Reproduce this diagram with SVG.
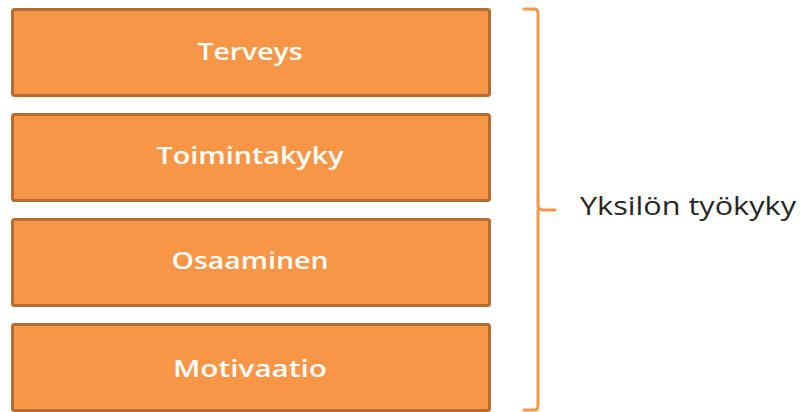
<svg xmlns="http://www.w3.org/2000/svg" width="800" height="412" viewBox="0 0 800 412">
<style>
.box{fill:#f79646;stroke:#b66d31;stroke-width:3}
.lbl{font-family:"Open Sans","Liberation Sans",sans-serif;font-size:24px;font-weight:600;fill:#ffffff;text-anchor:middle}
.side{font-family:"Open Sans","Liberation Sans",sans-serif;font-size:25px;fill:#262626}
.brace{fill:none;stroke:#f79646;stroke-width:3;stroke-linecap:round;stroke-linejoin:round}
</style>
<rect width="800" height="412" fill="#ffffff"/>
<g id="terveys"><rect class="box" x="12.5" y="9.5" width="477" height="86" rx="2"/><text class="lbl" x="250" y="60" textLength="105" lengthAdjust="spacingAndGlyphs">Terveys</text></g>
<g id="toimintakyky"><rect class="box" x="12.5" y="114.5" width="477" height="86" rx="2"/><text class="lbl" x="250" y="164" textLength="187" lengthAdjust="spacingAndGlyphs">Toimintakyky</text></g>
<g id="osaaminen"><rect class="box" x="12.5" y="219.5" width="477" height="86" rx="2"/><text class="lbl" x="250" y="269" textLength="157" lengthAdjust="spacingAndGlyphs">Osaaminen</text></g>
<g id="motivaatio"><rect class="box" x="12.5" y="324.5" width="477" height="86" rx="2"/><text class="lbl" x="250" y="377" textLength="154" lengthAdjust="spacingAndGlyphs">Motivaatio</text></g>
<g id="connectors">
<path class="brace" d="M524 9 H534 Q538 9 538 13 V205 Q538 210 543 210 H555 M538 210 Q538 215 538 215 V406 Q538 410 534 410 H524"/>
</g>
<g id="yksilon"><text class="side" x="580" y="215" textLength="216" lengthAdjust="spacingAndGlyphs">Yksilön työkyky</text></g>
</svg>
